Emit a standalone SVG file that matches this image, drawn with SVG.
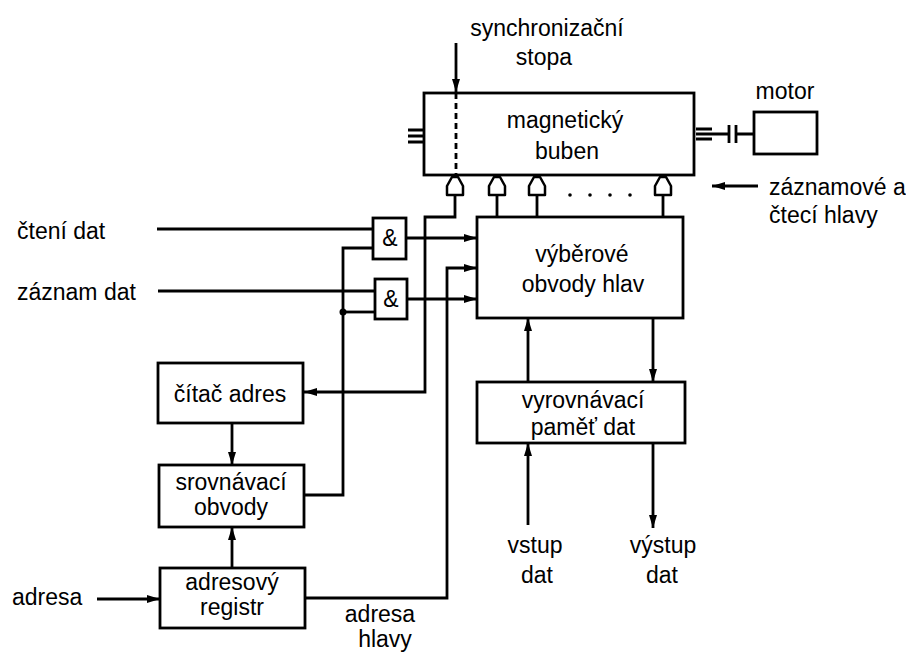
<svg xmlns="http://www.w3.org/2000/svg" xmlns:xlink="http://www.w3.org/1999/xlink" width="906" height="655" viewBox="0 0 906 655">
<style>
.b{fill:#fff;stroke:#000;stroke-width:2.8}
.l{fill:none;stroke:#000;stroke-width:2.8}
.h{fill:#fff;stroke:#000;stroke-width:2.5;stroke-linejoin:round}
text{font-family:"Liberation Sans",Arial,sans-serif;font-size:23px;fill:#000}
.c{text-anchor:middle}
</style>
<defs>
<marker id="a" markerUnits="userSpaceOnUse" markerWidth="13" markerHeight="8" refX="13" refY="4" orient="auto">
<path d="M0,0 L13,4 L0,8 z" fill="#000"/>
</marker>
<path id="head" d="M-8,18 V9 L-3,0 H3 L8,9 V18 Z"/>
</defs>
<rect width="906" height="655" fill="#fff"/>

<g id="connectors">
<path class="l" d="M456,43 V92" marker-end="url(#a)"/>
<path class="l" d="M758,186 H712" marker-end="url(#a)"/>
<path class="l" d="M157,229 H373"/>
<path class="l" d="M158,291 H375"/>
<path class="l" d="M406,238 H477" marker-end="url(#a)"/>
<path class="l" d="M407,299 H477" marker-end="url(#a)"/>
<path class="l" d="M304,495 H343 V248 H373"/>
<path class="l" d="M343,312 H375"/>
<circle cx="343" cy="312" r="3.5" fill="#000"/>
<path class="l" d="M455,195 V217 H425 V392 H304" marker-end="url(#a)"/>
<path class="l" d="M305,598 H447 V268 H477" marker-end="url(#a)"/>
<path class="l" d="M232,423 V465" marker-end="url(#a)"/>
<path class="l" d="M232,568 V527" marker-end="url(#a)"/>
<path class="l" d="M97,599 H160" marker-end="url(#a)"/>
<path class="l" d="M528,382 V318" marker-end="url(#a)"/>
<path class="l" d="M653,318 V382" marker-end="url(#a)"/>
<path class="l" d="M528,525 V443" marker-end="url(#a)"/>
<path class="l" d="M653,443 V528" marker-end="url(#a)"/>
<path class="l" d="M497,195 V217 M537,195 V217 M663,195 V217"/>
</g>

<g id="drum">
<rect class="b" x="424" y="93" width="270" height="82"/>
<path class="l" d="M456,93 V175" stroke-dasharray="6,4" stroke-width="2"/>
<path class="l" stroke-width="2.2" d="M408,130 H424 M408,136 H424 M408,142 H424"/>
<text class="c" x="565" y="128">magnetický</text>
<text class="c" x="567" y="159">buben</text>
</g>

<g id="sync-label">
<text class="c" x="547" y="36">synchronizační</text>
<text class="c" x="544" y="65">stopa</text>
</g>

<g id="axle">
<path class="l" stroke-width="2.2" d="M696,129 H712 M696,139 H712"/>
<path class="l" d="M696,134 H729 M737,134 H754"/>
<path class="l" stroke-width="3" d="M729,125 V143 M736,125 V143"/>
</g>

<g id="motor">
<rect class="b" x="754" y="112" width="63" height="42"/>
<text class="c" x="785" y="99">motor</text>
</g>

<g id="heads">
<use xlink:href="#head" class="h" transform="translate(455,177)"/>
<use xlink:href="#head" class="h" transform="translate(497,177)"/>
<use xlink:href="#head" class="h" transform="translate(537,177)"/>
<use xlink:href="#head" class="h" transform="translate(663,177)"/>
<circle cx="570" cy="195" r="1.8"/>
<circle cx="590" cy="195" r="1.8"/>
<circle cx="610" cy="195" r="1.8"/>
<circle cx="630" cy="195" r="1.8"/>
<text x="769" y="195" font-size="21">záznamové a</text>
<text x="769" y="223" font-size="21">čtecí hlavy</text>
</g>

<g id="gate1">
<rect class="b" x="373" y="218" width="33" height="41"/>
<text class="c" x="390" y="246" font-size="20">&amp;</text>
</g>
<g id="gate2">
<rect class="b" x="375" y="279" width="32" height="40"/>
<text class="c" x="391" y="307" font-size="20">&amp;</text>
</g>

<g id="select">
<rect class="b" x="477" y="217" width="206" height="101"/>
<text class="c" x="582" y="262">výběrové</text>
<text class="c" x="583" y="292">obvody hlav</text>
</g>

<g id="buffer">
<rect class="b" x="477" y="382" width="208" height="61"/>
<text class="c" x="583" y="408">vyrovnávací</text>
<text class="c" x="583" y="435">paměť dat</text>
</g>

<g id="counter">
<rect class="b" x="158" y="363" width="145" height="60"/>
<text class="c" x="230" y="402">čítač adres</text>
</g>

<g id="comparator">
<rect class="b" x="159" y="465" width="145" height="62"/>
<text class="c" x="231" y="490">srovnávací</text>
<text class="c" x="231" y="515">obvody</text>
</g>

<g id="register">
<rect class="b" x="160" y="568" width="145" height="60"/>
<text class="c" x="232" y="590">adresový</text>
<text class="c" x="232" y="615">registr</text>
</g>

<g id="labels">
<text x="17" y="239">čtení dat</text>
<text x="17" y="300">záznam dat</text>
<text x="12" y="605">adresa</text>
<text class="c" x="380" y="622" font-size="22">adresa</text>
<text class="c" x="385" y="647" font-size="22">hlavy</text>
<text class="c" x="535" y="553">vstup</text>
<text class="c" x="537" y="583">dat</text>
<text class="c" x="663" y="553">výstup</text>
<text class="c" x="662" y="583">dat</text>
</g>
</svg>
